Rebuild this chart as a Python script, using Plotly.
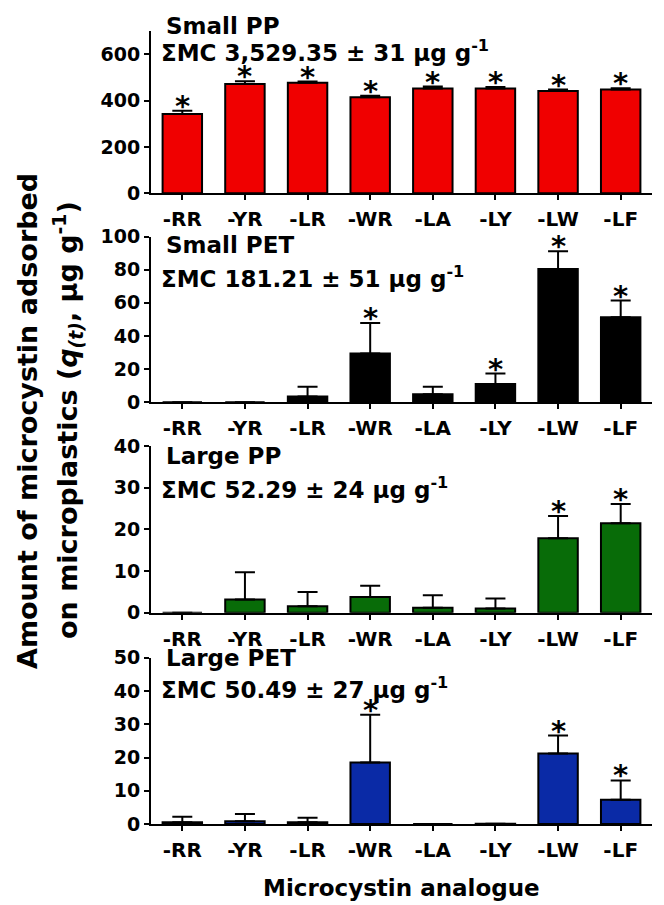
import plotly.graph_objects as go

# ---------------- data ----------------
categories = ["-RR", "-YR", "-LR", "-WR", "-LA", "-LY", "-LW", "-LF"]

small_pp_mean = [343, 472, 478, 415, 453, 453, 442, 448]
small_pp_err = [14, 12, 5, 6, 8, 6, 6, 6]
small_pp_sig = [1, 1, 1, 1, 1, 1, 1, 1]

small_pet_mean = [0, 0, 3.4, 29.4, 4.8, 11.0, 80.5, 51.3]
small_pet_err = [0, 0, 5.9, 18.5, 4.5, 6.3, 10.6, 10.1]
small_pet_sig = [0, 0, 0, 1, 0, 1, 1, 1]

large_pp_mean = [0, 3.2, 1.6, 3.8, 1.2, 1.05, 17.9, 21.5]
large_pp_err = [0, 6.5, 3.4, 2.7, 3.0, 2.35, 5.3, 4.6]
large_pp_sig = [0, 0, 0, 0, 0, 0, 1, 1]

large_pet_mean = [0.5, 0.8, 0.5, 18.5, 0, 0.1, 21.2, 7.3]
large_pet_err = [1.7, 2.2, 1.4, 14.4, 0, 0, 5.4, 5.8]
large_pet_sig = [0, 0, 0, 1, 0, 0, 1, 1]

panel_names = ["Small PP", "Small PET", "Large PP", "Large PET"]
panel_totals = ["3,529.35 ± 31", "181.21 ± 51", "52.29 ± 24", "50.49 ± 27"]
panel_colors = ["#F00000", "#000000", "#086C08", "#0A2AA6"]
y_ranges = [[0, 700], [0, 100], [0, 40], [0, 50]]
y_ticks = [[0, 200, 400, 600], [0, 20, 40, 60, 80, 100],
           [0, 10, 20, 30, 40], [0, 10, 20, 30, 40, 50]]

means = [small_pp_mean, small_pet_mean, large_pp_mean, large_pet_mean]
errs = [small_pp_err, small_pet_err, large_pp_err, large_pet_err]
sigs = [small_pp_sig, small_pet_sig, large_pp_sig, large_pet_sig]

# ---------------- layout geometry (page pixels) ----------------
W, H = 664, 905
OFF = 8  # default page body margin


def px_x(p):
    return (p - OFF) / W


def px_y(p):
    return 1 - (p - OFF) / H


x_left, x_right = 151, 652
# (zero baseline px, axis top px) per panel
panel_px = [(193.3, 31.3), (402.2, 236.6), (612.8, 446.0), (824.0, 657.8)]
title_px = [(26, 51), (245, 277), (456, 488), (658, 688)]

FONT = "DejaVu Sans"

fig = go.Figure()
layout = dict(
    width=W, height=H,
    margin=dict(l=0, r=0, t=0, b=0, autoexpand=False),
    paper_bgcolor="white", plot_bgcolor="white",
    showlegend=False,
)
annotations = []

for i in range(4):
    n = "" if i == 0 else str(i + 1)
    xa, ya = "x" + n, "y" + n
    err_plot = [e if e > 0 else None for e in errs[i]]
    fig.add_trace(go.Bar(
        x=categories, y=means[i],
        xaxis=xa, yaxis=ya,
        width=0.63,
        marker=dict(color=panel_colors[i], line=dict(color="black", width=2)),
        error_y=dict(type="data", symmetric=False, array=err_plot,
                     arrayminus=[0] * len(categories),
                     color="black", thickness=2, width=10),
        hoverinfo="skip",
    ))
    zero_px, top_px = panel_px[i]
    layout["xaxis" + n] = dict(
        domain=[px_x(x_left), px_x(x_right)], anchor=ya,
        range=[-0.5, 7.5], type="category", automargin=False,
        showline=True, linecolor="black", linewidth=2,
        ticks="outside", ticklen=5, tickwidth=2, tickcolor="black",
        tickfont=dict(family=FONT, size=20, color="black", weight="bold"),
        ticklabelstandoff=2,
        showgrid=False, zeroline=False, fixedrange=True,
    )
    layout["yaxis" + n] = dict(
        domain=[px_y(zero_px), px_y(top_px)], anchor=xa,
        range=y_ranges[i], tickvals=y_ticks[i], automargin=False,
        showline=True, linecolor="black", linewidth=2,
        ticks="outside", ticklen=5, tickwidth=2, tickcolor="black",
        tickfont=dict(family=FONT, size=19, color="black", weight="bold"),
        showgrid=False, zeroline=False, fixedrange=True,
    )
    # significance asterisks
    for c, m, e, s in zip(categories, means[i], errs[i], sigs[i]):
        if s:
            annotations.append(dict(
                x=c, y=m + e, xref=xa, yref=ya,
                text="*", showarrow=False, yanchor="bottom", xanchor="center",
                yshift=-14,
                font=dict(family=FONT, size=29, color="black", weight="bold"),
            ))
    # panel titles
    t1, t2 = title_px[i]
    annotations.append(dict(
        x=px_x(164), y=px_y(t1), xref="paper", yref="paper",
        text=panel_names[i], showarrow=False, xanchor="left", yanchor="middle",
        font=dict(family=FONT, size=23, color="black", weight="bold"),
    ))
    annotations.append(dict(
        x=px_x(159), y=px_y(t2), xref="paper", yref="paper",
        text="ΣMC " + panel_totals[i] + " μg g<sup>-1</sup>",
        showarrow=False, xanchor="left", yanchor="middle",
        font=dict(family=FONT, size=23, color="black", weight="bold"),
    ))

# axis titles
annotations.append(dict(
    x=px_x(27), y=px_y(421), xref="paper", yref="paper",
    text="Amount of microcystin adsorbed", textangle=-90,
    showarrow=False, xanchor="center", yanchor="middle",
    font=dict(family=FONT, size=27, color="black", weight="bold"),
))
annotations.append(dict(
    x=px_x(67), y=px_y(420), xref="paper", yref="paper",
    text="on microplastics (<i>q</i><sub><i>(t)</i></sub>, μg g<sup>-1</sup>)",
    textangle=-90,
    showarrow=False, xanchor="center", yanchor="middle",
    font=dict(family=FONT, size=27, color="black", weight="bold"),
))
annotations.append(dict(
    x=px_x(401), y=px_y(888), xref="paper", yref="paper",
    text="Microcystin analogue",
    showarrow=False, xanchor="center", yanchor="middle",
    font=dict(family=FONT, size=23, color="black", weight="bold"),
))

layout["annotations"] = annotations
fig.update_layout(**layout)
fig.write_html("out.html")
